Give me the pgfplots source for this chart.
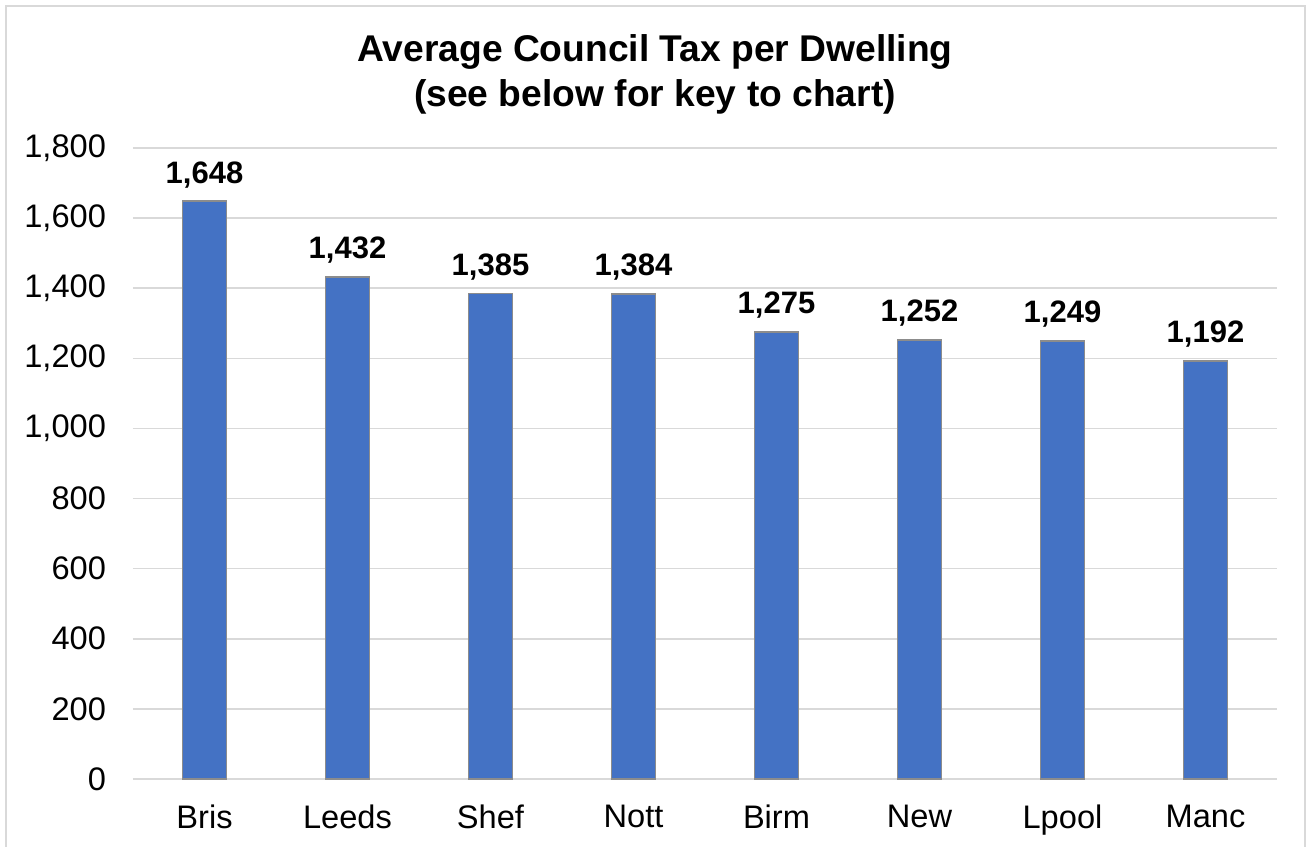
\documentclass[border=0pt]{standalone}
\usepackage{pgfplots}
\pgfplotsset{compat=1.18}
\usepackage{fontspec}
\setmainfont{Liberation Sans}
\definecolor{barblue}{HTML}{4472C4}
\definecolor{gridgray}{HTML}{D9D9D9}
\definecolor{edgegray}{HTML}{8C8C8C}
\begin{document}
\begin{tikzpicture}
\useasboundingbox (0pt,0pt) rectangle (655.5pt,423pt);
\draw[gridgray,line width=1pt] (3pt,-3pt) -- (3pt,420pt) -- (652.5pt,420pt) -- (652.5pt,-3pt);
\node[font=\fontsize{18.6pt}{22.5pt}\selectfont\bfseries,align=center] at (327.5pt,386pt)
  {Average Council Tax per Dwelling\\(see below for key to chart)};
\begin{axis}[
  at={(66.5pt,33.5pt)}, anchor=south west,
  scale only axis, width=572pt, height=315.5pt,
  xmin=-0.5, xmax=7.5, ymin=0, ymax=1800,
  ytick={0,200,...,1800},
  xtick=data,
  xticklabels={Bris,Leeds,Shef,Nott,Birm,New,Lpool,Manc},
  ymajorgrids, grid style={gridgray, line width=0.8pt},
  axis line style={draw=none},
  axis x line*=bottom, axis y line*=left,
  major tick length=0pt,
  tick label style={font=\fontsize{16.3pt}{19pt}\selectfont},
  xticklabel style={yshift=-9.5pt},
  yticklabel style={xshift=-10pt},
  /pgf/number format/.cd, 1000 sep={,}, assume math mode=true,
  /pgfplots/.cd,
  ybar, bar width=22pt,
  nodes near coords,
  every node near coord/.append style={font=\fontsize{15.5pt}{19pt}\selectfont\bfseries, yshift=3pt},
  clip=false,
]
\draw[gridgray, line width=1pt] (axis cs:-0.5,0) -- (axis cs:7.5,0);
\addplot[fill=barblue, draw=edgegray, line width=0.8pt] coordinates {
 (0,1648) (1,1432) (2,1385) (3,1384) (4,1275) (5,1252) (6,1249) (7,1192)};
\end{axis}
\end{tikzpicture}
\end{document}
